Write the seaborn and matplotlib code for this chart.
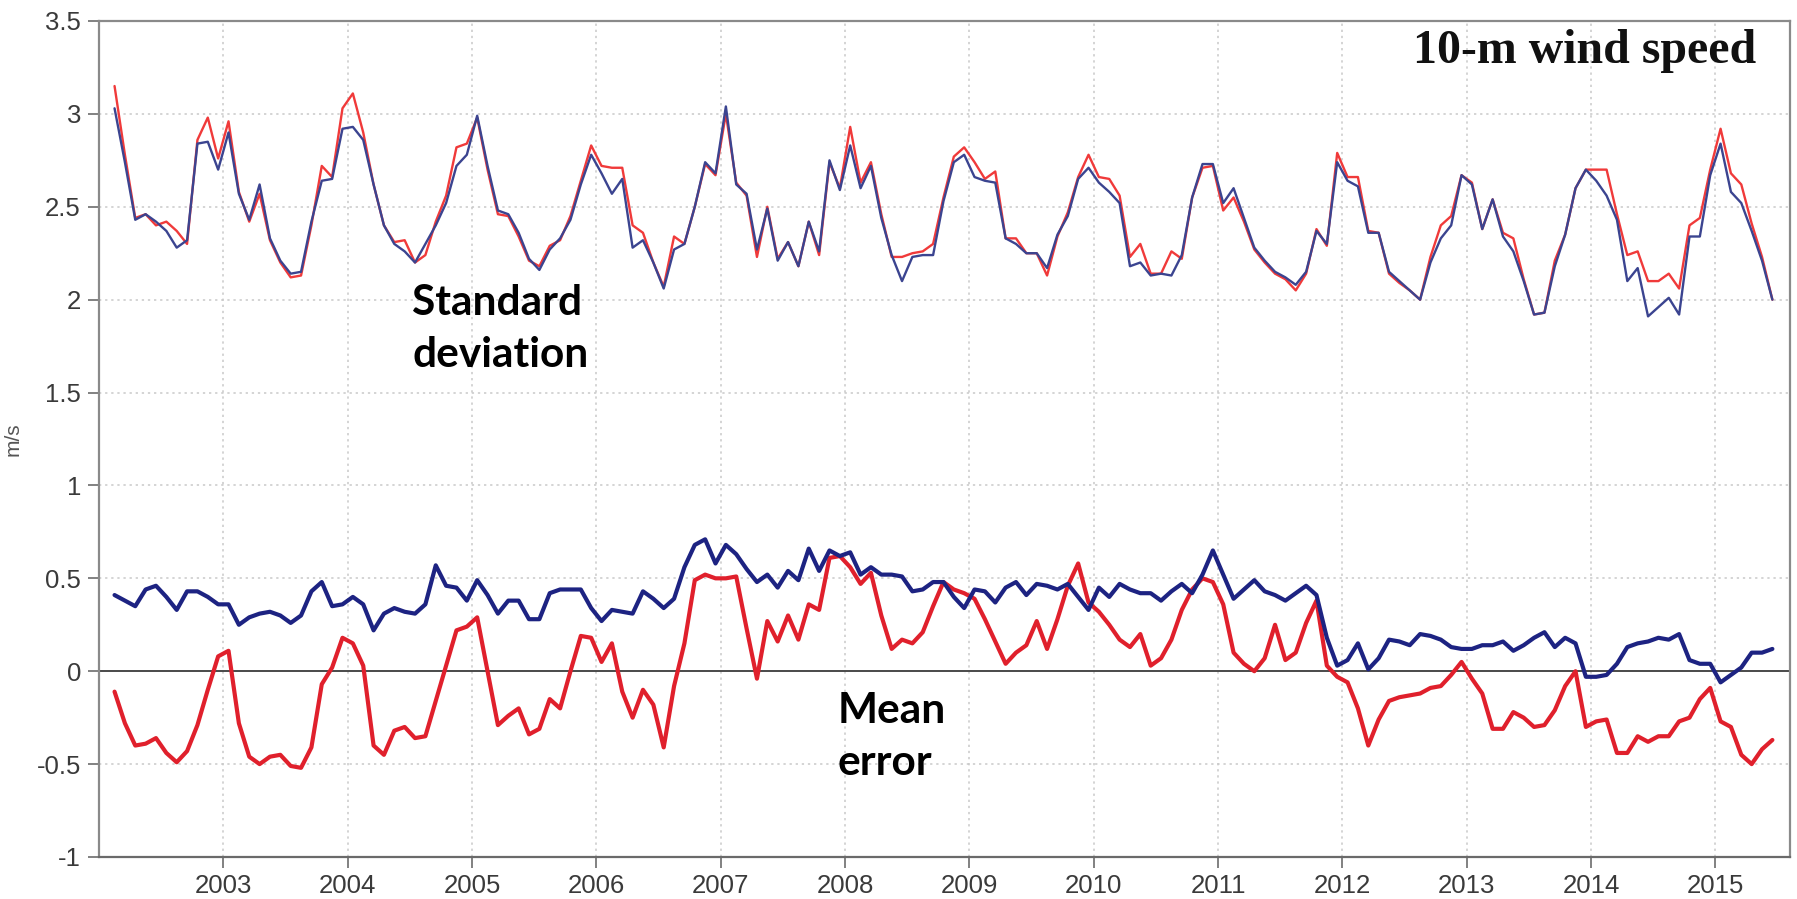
import numpy as np
import pandas as pd
import matplotlib
matplotlib.use("Agg")
import matplotlib.pyplot as plt
import seaborn as sns

# Monthly statistics of 10-m wind speed, Feb 2002 - Jun 2015
start_year = 2002
start_month = 2

std_red = [
    3.15, 2.78, 2.44, 2.46, 2.40, 2.42, 2.37, 2.30, 2.86, 2.98, 2.76, 2.96,
    2.58, 2.42, 2.57, 2.32, 2.20, 2.12, 2.13, 2.40, 2.72, 2.66, 3.03, 3.11,
    2.90, 2.62, 2.40, 2.31, 2.32, 2.20, 2.24, 2.42, 2.56, 2.82, 2.84, 2.98,
    2.70, 2.46, 2.45, 2.34, 2.21, 2.18, 2.29, 2.32, 2.45, 2.64, 2.83, 2.72,
    2.71, 2.71, 2.40, 2.36, 2.20, 2.07, 2.34, 2.30, 2.50, 2.73, 2.67, 3.00,
    2.63, 2.56, 2.23, 2.50, 2.22, 2.31, 2.18, 2.42, 2.24, 2.74, 2.60, 2.93,
    2.63, 2.74, 2.46, 2.23, 2.23, 2.25, 2.26, 2.30, 2.55, 2.77, 2.82, 2.74,
    2.65, 2.69, 2.33, 2.33, 2.25, 2.25, 2.13, 2.34, 2.47, 2.66, 2.78, 2.66,
    2.65, 2.56, 2.23, 2.30, 2.14, 2.14, 2.26, 2.22, 2.55, 2.71, 2.72, 2.48,
    2.55, 2.42, 2.27, 2.20, 2.14, 2.11, 2.05, 2.14, 2.38, 2.29, 2.79, 2.66,
    2.66, 2.37, 2.36, 2.14, 2.09, 2.05, 2.00, 2.23, 2.40, 2.45, 2.67, 2.63,
    2.38, 2.54, 2.36, 2.33, 2.11, 1.92, 1.93, 2.21, 2.35, 2.60, 2.70, 2.70,
    2.70, 2.46, 2.24, 2.26, 2.10, 2.10, 2.14, 2.06, 2.40, 2.44, 2.70, 2.92,
    2.68, 2.62, 2.41, 2.23, 2.00,
]
std_blue = [
    3.03, 2.74, 2.43, 2.46, 2.42, 2.37, 2.28, 2.32, 2.84, 2.85, 2.70, 2.90,
    2.57, 2.43, 2.62, 2.33, 2.21, 2.14, 2.15, 2.42, 2.64, 2.65, 2.92, 2.93,
    2.86, 2.62, 2.40, 2.30, 2.26, 2.20, 2.30, 2.40, 2.52, 2.72, 2.78, 2.99,
    2.72, 2.48, 2.46, 2.36, 2.22, 2.16, 2.27, 2.33, 2.43, 2.62, 2.78, 2.68,
    2.57, 2.65, 2.28, 2.32, 2.20, 2.06, 2.27, 2.30, 2.50, 2.74, 2.68, 3.04,
    2.62, 2.57, 2.27, 2.49, 2.21, 2.31, 2.18, 2.42, 2.26, 2.75, 2.59, 2.83,
    2.60, 2.72, 2.44, 2.24, 2.10, 2.23, 2.24, 2.24, 2.53, 2.74, 2.78, 2.66,
    2.64, 2.63, 2.33, 2.30, 2.25, 2.25, 2.17, 2.35, 2.45, 2.65, 2.71, 2.63,
    2.58, 2.52, 2.18, 2.20, 2.13, 2.14, 2.13, 2.24, 2.55, 2.73, 2.73, 2.52,
    2.60, 2.44, 2.28, 2.21, 2.15, 2.12, 2.08, 2.15, 2.37, 2.30, 2.74, 2.64,
    2.61, 2.36, 2.36, 2.15, 2.10, 2.05, 2.00, 2.20, 2.33, 2.40, 2.67, 2.62,
    2.38, 2.54, 2.34, 2.26, 2.10, 1.92, 1.93, 2.18, 2.35, 2.60, 2.70, 2.64,
    2.56, 2.43, 2.10, 2.17, 1.91, 1.96, 2.01, 1.92, 2.34, 2.34, 2.67, 2.84,
    2.58, 2.52, 2.37, 2.21, 2.00,
]
mean_red = [
    -0.11, -0.28, -0.40, -0.39, -0.36, -0.44, -0.49, -0.43, -0.29, -0.10, 0.08, 0.11,
    -0.28, -0.46, -0.50, -0.46, -0.45, -0.51, -0.52, -0.41, -0.07, 0.02, 0.18, 0.15,
    0.03, -0.40, -0.45, -0.32, -0.30, -0.36, -0.35, -0.16, 0.03, 0.22, 0.24, 0.29,
    0.00, -0.29, -0.24, -0.20, -0.34, -0.31, -0.15, -0.20, 0.00, 0.19, 0.18, 0.05,
    0.15, -0.11, -0.25, -0.10, -0.18, -0.41, -0.08, 0.15, 0.49, 0.52, 0.50, 0.50,
    0.51, 0.23, -0.04, 0.27, 0.16, 0.30, 0.17, 0.36, 0.33, 0.61, 0.62, 0.56,
    0.47, 0.53, 0.30, 0.12, 0.17, 0.15, 0.21, 0.35, 0.48, 0.44, 0.42, 0.39,
    0.28, 0.16, 0.04, 0.10, 0.14, 0.27, 0.12, 0.28, 0.46, 0.58, 0.37, 0.32,
    0.25, 0.17, 0.13, 0.20, 0.03, 0.07, 0.17, 0.33, 0.44, 0.50, 0.48, 0.36,
    0.10, 0.04, 0.00, 0.07, 0.25, 0.06, 0.10, 0.26, 0.38, 0.03, -0.03, -0.06,
    -0.20, -0.40, -0.26, -0.16, -0.14, -0.13, -0.12, -0.09, -0.08, -0.02, 0.05, -0.04,
    -0.12, -0.31, -0.31, -0.22, -0.25, -0.30, -0.29, -0.21, -0.08, 0.00, -0.30, -0.27,
    -0.26, -0.44, -0.44, -0.35, -0.38, -0.35, -0.35, -0.27, -0.25, -0.15, -0.09, -0.27,
    -0.30, -0.45, -0.50, -0.42, -0.37,
]
mean_blue = [
    0.41, 0.38, 0.35, 0.44, 0.46, 0.40, 0.33, 0.43, 0.43, 0.40, 0.36, 0.36,
    0.25, 0.29, 0.31, 0.32, 0.30, 0.26, 0.30, 0.43, 0.48, 0.35, 0.36, 0.40,
    0.36, 0.22, 0.31, 0.34, 0.32, 0.31, 0.36, 0.57, 0.46, 0.45, 0.38, 0.49,
    0.41, 0.31, 0.38, 0.38, 0.28, 0.28, 0.42, 0.44, 0.44, 0.44, 0.34, 0.27,
    0.33, 0.32, 0.31, 0.43, 0.39, 0.34, 0.39, 0.56, 0.68, 0.71, 0.58, 0.68,
    0.63, 0.55, 0.48, 0.52, 0.45, 0.54, 0.49, 0.66, 0.54, 0.65, 0.62, 0.64,
    0.52, 0.56, 0.52, 0.52, 0.51, 0.43, 0.44, 0.48, 0.48, 0.40, 0.34, 0.44,
    0.43, 0.37, 0.45, 0.48, 0.41, 0.47, 0.46, 0.44, 0.47, 0.40, 0.33, 0.45,
    0.40, 0.47, 0.44, 0.42, 0.42, 0.38, 0.43, 0.47, 0.42, 0.52, 0.65, 0.52,
    0.39, 0.44, 0.49, 0.43, 0.41, 0.38, 0.42, 0.46, 0.41, 0.18, 0.03, 0.06,
    0.15, 0.01, 0.07, 0.17, 0.16, 0.14, 0.20, 0.19, 0.17, 0.13, 0.12, 0.12,
    0.14, 0.14, 0.16, 0.11, 0.14, 0.18, 0.21, 0.13, 0.18, 0.15, -0.03, -0.03,
    -0.02, 0.04, 0.13, 0.15, 0.16, 0.18, 0.17, 0.20, 0.06, 0.04, 0.04, -0.06,
    -0.02, 0.02, 0.10, 0.10, 0.12,
]

year_ticks = list(range(2003, 2016))
y_ticks = [-1, -0.5, 0, 0.5, 1, 1.5, 2, 2.5, 3, 3.5]
y_tick_labels = ["-1", "-0.5", "0", "0.5", "1", "1.5", "2", "2.5", "3", "3.5"]

n = len(std_red)
t = start_year + (start_month - 0.5) / 12 + np.arange(n) / 12.0

df = pd.DataFrame({
    "t": t,
    "std_red": std_red,
    "std_blue": std_blue,
    "mean_red": mean_red,
    "mean_blue": mean_blue,
})

sns.set_style("white")
plt.rcParams["font.family"] = ["Liberation Sans", "DejaVu Sans"]

fig = plt.figure(figsize=(17.97, 8.99), dpi=100)
ax = fig.add_axes([99 / 1797, 1 - 857 / 899, (1790 - 99) / 1797, (857 - 21) / 899])

grid_kw = dict(color="#c9c9c9", linestyle=(0, (1.5, 2.5)), linewidth=1.1, zorder=0)
for yv in y_ticks[1:-1]:
    if yv != 0:
        ax.axhline(yv, **grid_kw)
for xv in year_ticks:
    ax.axvline(xv, **grid_kw)
ax.axhline(0, color="#3c3c3c", linewidth=1.3, zorder=1)

red_thin = "#f03a3a"
blue_thin = "#3b4490"
red_thick = "#e0202c"
blue_thick = "#1d2382"

sns.lineplot(data=df, x="t", y="std_red", ax=ax, color=red_thin, linewidth=1.7, zorder=3)
sns.lineplot(data=df, x="t", y="std_blue", ax=ax, color=blue_thin, linewidth=1.7, zorder=4)
sns.lineplot(data=df, x="t", y="mean_red", ax=ax, color=red_thick, linewidth=3.0, zorder=3)
sns.lineplot(data=df, x="t", y="mean_blue", ax=ax, color=blue_thick, linewidth=3.0, zorder=4)

ax.set_xlim(2002.0, 2015.6)
ax.set_ylim(-1, 3.5)
ax.set_xticks(year_ticks)
ax.set_xticklabels([str(y) for y in year_ticks])
ax.set_yticks(y_ticks)
ax.set_yticklabels(y_tick_labels)
ax.set_xlabel("")
ax.set_ylabel("m/s", fontsize=15, color="#555555")
ax.yaxis.set_label_coords(-0.045, 0.5)

for side in ["left", "bottom", "top", "right"]:
    ax.spines[side].set_visible(True)
    ax.spines[side].set_color("#8a8a8a")
    ax.spines[side].set_linewidth(1.6)
ax.spines["bottom"].set_color("#6a6a6a")

ax.tick_params(axis="both", which="major", direction="out", length=8, width=1.3,
               color="#777777", labelsize=18.5, labelcolor="#3a3a3a", pad=5)
ax.tick_params(axis="x", bottom=True, pad=4)
ax.tick_params(axis="y", left=True)

fig.text(1756 / 1797, 1 - 63 / 899, "10-m wind speed", ha="right", va="baseline",
         fontsize=34.5, fontweight="bold", family=["Liberation Serif"], color="#111111")

label_kw = dict(fontsize=30.5, fontweight="bold", family=["Lato", "DejaVu Sans"],
                color="black", ha="left", va="baseline")
fig.text(412 / 1797, 1 - 315 / 899, "Standard", **label_kw)
fig.text(412 / 1797, 1 - 367 / 899, "deviation", **label_kw)
fig.text(838 / 1797, 1 - 723 / 899, "Mean", **label_kw)
fig.text(838 / 1797, 1 - 775 / 899, "error", **label_kw)

fig.savefig("out.png", dpi=100)
